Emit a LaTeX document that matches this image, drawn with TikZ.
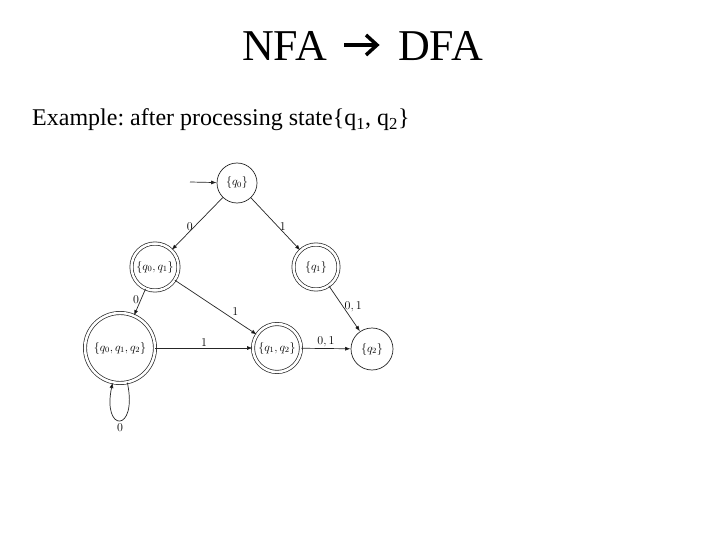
\documentclass[tikz,border=0pt]{standalone}
\usepackage{fontspec}
\setmainfont{Liberation Serif}
\usetikzlibrary{arrows.meta,positioning}
\tikzset{>=Latex}

\begin{document}
\frenchspacing
\begin{tikzpicture}[x=1pt, y=-1pt,
                >={Latex[length=5.5pt,width=4pt]},
                every node/.append style={align=center},
                state/.style={draw=black!85, circle, inner sep=0pt, line width=.7pt, font=\large},
                accept/.style={state, double, double distance=2.5pt},
                lbl/.style={font=\large, inner sep=1.5pt},
                link/.style={->, draw=black!85, line width=.7pt}]

   \useasboundingbox[fill=white] (0,0) rectangle (720,540);

   % title
   \node [anchor=base east, inner sep=0pt] (nfa) at (327,61) {\fontsize{44}{50}\selectfont NFA};
   \node [anchor=base west, inner sep=0pt] (dfa) at (398,61) {\fontsize{44}{50}\selectfont DFA};
   \coordinate (tail) at (344,45);
   \coordinate (head) at (377,45);
   \draw [line width=3.5pt] (tail) -- ([xshift=-2pt]head);
   \draw [line width=3.5pt, miter limit=10] ([xshift=-11pt,yshift=-10pt]head) -- (head) -- ([xshift=-11pt,yshift=10pt]head);
   \node [anchor=base west, inner sep=0pt] (sub) at (32,126)
        {\fontsize{24}{28}\selectfont Example: after processing state\{q\textsubscript{1}, q\textsubscript{2}\}};

   % states
   \node [state, minimum size=40pt] (Q0)    at (237,183) {$\{q_0\}$};
   \node [accept, minimum size=47pt] (Q01)  at (155,267) {$\{q_0, q_1\}$};
   \node [accept, minimum size=45pt] (Q1)   at (316,267) {$\{q_1\}$};
   \node [accept, minimum size=70pt] (Q012) at (120,348) {$\{q_0, q_1, q_2\}$};
   \node [accept, minimum size=48pt] (Q12)  at (277,348) {$\{q_1, q_2\}$};
   \node [state, minimum size=42pt] (Q2)    at (372,349) {$\{q_2\}$};
   \coordinate (start) at (190,182);

   % transitions
   \draw [link] (start) -- (Q0);
   \path [link] (Q0) edge node [lbl, pos=.55, left] {$0$} (Q01)
                (Q0) edge node [lbl, pos=.55, right] {$1$} (Q1)
                (Q01) edge node [lbl, pos=.4, left] {$0$} (Q012)
                (Q01) edge node [lbl, pos=.68, above right] {$1$} (Q12)
                (Q012) edge node [lbl, above] {$1$} (Q12)
                (Q12) edge node [lbl, above] {$0, 1$} (Q2)
                (Q1) edge node [lbl, pos=.45, right] {$0, 1$} (Q2)
                (Q012) edge [out=-78, in=-102, looseness=9] node [lbl, below=1pt] {$0$} (Q012);
\end{tikzpicture}
\end{document}
